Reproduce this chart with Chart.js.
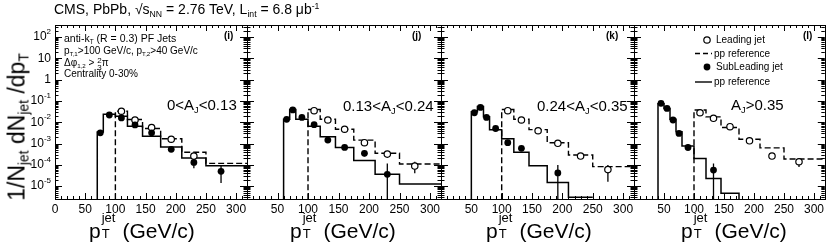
<!DOCTYPE html>
<html><head><meta charset="utf-8">
<script src="https://cdn.jsdelivr.net/npm/chart.js@4.4.1/dist/chart.umd.min.js"></script>
<style>
html,body{margin:0;padding:0;background:#fff;}
#wrap{position:relative;width:830px;height:251px;overflow:hidden;font-family:"Liberation Sans",Arial,Helvetica,sans-serif;color:#000;}
canvas{position:absolute;left:0;top:0;}
.t{position:absolute;white-space:nowrap;line-height:1;z-index:5;}
.t sub,.t sup{font-size:0.62em;line-height:0;}
.t sub{vertical-align:-0.35em;}
.t sup{vertical-align:0.55em;}
.xt{font-size:21px;}
.ss{display:inline-block;position:relative;width:16px;height:1em;}
.ss .a{position:absolute;left:1px;top:-0.5em;font-size:0.62em;}
.ss .b{position:absolute;left:1px;top:0.78em;font-size:0.62em;}
.frac{display:inline-block;vertical-align:-0.45em;font-size:0.8em;line-height:0.85;text-align:center;}
.frac span{display:block;}
.yt{font-size:23px;transform:translate(-50%,-50%) rotate(-90deg);}
.yt sub{font-size:0.6em;vertical-align:-0.3em;}
</style></head>
<body>
<div id="wrap">
<canvas id="c0" width="830" height="251"></canvas>
<canvas id="c1" width="830" height="251"></canvas>
<canvas id="c2" width="830" height="251"></canvas>
<canvas id="c3" width="830" height="251"></canvas>

<div class="t" style="left:54px;top:2px;font-size:14px;">CMS, PbPb, <span>√<span style="border-top:1px solid #000;padding-top:1px;">s<sub>NN</sub></span></span> = 2.76 TeV, L<sub>int</sub> = 6.8 μb<sup>-1</sup></div>

<div class="t yt" style="left:17px;top:127px;">1/N<sub>jet</sub> dN<sub>jet</sub> /dp<sub>T</sub></div>

<div class="t xt" style="left:89px;top:217px;">p<span class="ss"><span class="a">jet</span><span class="b">T</span></span> (GeV/c)</div>
<div class="t xt" style="left:290px;top:217px;">p<span class="ss"><span class="a">jet</span><span class="b">T</span></span> (GeV/c)</div>
<div class="t xt" style="left:486px;top:217px;">p<span class="ss"><span class="a">jet</span><span class="b">T</span></span> (GeV/c)</div>
<div class="t xt" style="left:681px;top:217px;">p<span class="ss"><span class="a">jet</span><span class="b">T</span></span> (GeV/c)</div>

<div class="t" style="left:64px;top:33px;font-size:10.5px;">anti-k<sub>T</sub> (R = 0.3) PF Jets</div>
<div class="t" style="left:64px;top:46px;font-size:10px;">p<sub>T,1</sub>&gt;100 GeV/c, p<sub>T,2</sub>&gt;40 GeV/c</div>
<div class="t" style="left:64px;top:58px;font-size:10px;">Δφ<sub>1,2</sub> &gt; <span class="frac"><span>2</span><span>3</span></span>π</div>
<div class="t" style="left:64px;top:69px;font-size:10px;">Centrality 0-30%</div>

<div class="t" style="left:224px;top:31px;font-size:10px;font-weight:bold;">(i)</div>
<div class="t" style="left:412px;top:31px;font-size:10px;font-weight:bold;">(j)</div>
<div class="t" style="left:606px;top:31px;font-size:10px;font-weight:bold;">(k)</div>
<div class="t" style="left:803px;top:31px;font-size:10px;font-weight:bold;">(l)</div>

<div class="t" style="left:167px;top:97px;font-size:15px;">0&lt;A<sub>J</sub>&lt;0.13</div>
<div class="t" style="left:343px;top:98px;font-size:15px;">0.13&lt;A<sub>J</sub>&lt;0.24</div>
<div class="t" style="left:537px;top:98px;font-size:15px;">0.24&lt;A<sub>J</sub>&lt;0.35</div>
<div class="t" style="left:731px;top:97px;font-size:15px;">A<sub>J</sub>&gt;0.35</div>

<div class="t" style="left:716px;top:35px;font-size:10px;">Leading jet</div>
<div class="t" style="left:714px;top:48.5px;font-size:10px;">pp reference</div>
<div class="t" style="left:716px;top:62px;font-size:10px;">SubLeading jet</div>
<div class="t" style="left:714px;top:77px;font-size:10px;">pp reference</div>
</div>

<script>
// ---------------- data ----------------
const xTicksFirst = [0, 50, 100, 150, 200, 250, 300];
const xTicksOther = [50, 100, 150, 200, 250, 300];
const yDecades = [-5, -4, -3, -2, -1, 0, 1, 2];

// leading-jet bins (centres and lower edges of pp reference histogram)
const leadX = [110, 132.5, 160, 192.5, 230, 275];
const leadRefEdges = [100, 120, 145, 175, 210, 250];

// panel (i) 0<AJ<0.13
const lead1 = [0.033, 0.0128, 0.0057, 0.0016, 0.00026, null];
const leadRef1 = [0.033, 0.0135, 0.0051, 0.0017, 0.00039, 0.000118];
const sub1X = [75, 90, 110, 132.5, 160, 192.5, 230, 275];
const sub1 = [0.0032, 0.022, 0.016, 0.0075, 0.0032, 0.00054, 0.00013, 0.00005];
const sub1ErrLo = [null, null, null, null, null, null, 0.00007, 0.000014];
const sub1ErrHi = [null, null, null, null, null, null, 0.00023, 0.0001];
const subRef1Edges = [70, 80, 100, 120, 145, 175, 210, 250];
const subRef1 = [0.0035, 0.024, 0.019, 0.0066, 0.0022, 0.0007, 0.00021, 0.00009];

// panel (j) 0.13<AJ<0.24
const lead2 = [0.035, 0.0128, 0.0047, 0.0011, 0.00032, 0.000088];
const lead2ErrLo = [null, null, null, null, null, 0.00004];
const lead2ErrHi = [null, null, null, null, null, 0.00014];
const leadRef2 = [0.04, 0.0138, 0.0047, 0.00145, 0.00035, 0.00011];
const sub2X = [65, 75, 90, 110, 132.5, 160, 192.5, 230];
const sub2 = [0.0138, 0.038, 0.017, 0.0077, 0.00146, 0.00066, 0.00035, 0.000036];
const sub2ErrLo = [null, null, null, null, null, null, 0.00025, 1e-7];
const sub2ErrHi = [null, null, null, null, null, null, 0.00048, 0.000117];
const subRef2Edges = [60, 70, 80, 100, 120, 145, 175, 210, 250];
const subRef2 = [0.0138, 0.04, 0.0138, 0.0066, 0.0021, 0.00066, 0.00016, 0.000036, 0.0000126];

// panel (k) 0.24<AJ<0.35
const lead3 = [0.035, 0.0128, 0.004, 0.00103, 0.00026, 0.00006];
const lead3ErrLo = [null, null, null, null, null, 0.000016];
const lead3ErrHi = [null, null, null, null, null, 0.0001];
const leadRef3 = [0.04, 0.0138, 0.0045, 0.0011, 0.00029, 0.000083];
const sub3X = [55, 65, 75, 90, 110, 132.5, 192.5];
const sub3 = [0.028, 0.05, 0.017, 0.0051, 0.0011, 0.0006, 0.000042];
const sub3ErrLo = [null, null, null, null, null, null, 1e-7];
const sub3ErrHi = [null, null, null, null, null, null, 0.0001];
const subRef3Edges = [50, 60, 70, 80, 100, 120, 145, 175, 210];
const subRef3 = [0.031, 0.055, 0.018, 0.0045, 0.0017, 0.00039, 0.00009, 0.000015, 0.000003];
const subRef3End = 250;

// panel (l) AJ>0.35
const lead4 = [0.028, 0.0154, 0.0062, 0.00135, 0.00026, 0.00014];
const lead4ErrLo = [null, null, null, null, null, 0.00008];
const lead4ErrHi = [null, null, null, null, null, 0.00019];
const leadRef4 = [0.038, 0.018, 0.0057, 0.0016, 0.00063, 0.00019];
const sub4X = [45, 55, 65, 75, 90, 132.5];
const sub4 = [0.078, 0.045, 0.0128, 0.003, 0.00066, 0.000057];
const sub4ErrLo = [null, null, null, null, 0.00045, 1e-7];
const sub4ErrHi = [null, null, null, null, 0.00095, 0.000117];
const subRef4Edges = [40, 50, 60, 70, 80, 100, 120, 145];
const subRef4 = [0.075, 0.045, 0.0138, 0.0036, 0.00076, 0.0002, 0.000023, 0.0000046];
const subRef4End = 175;

// ---------------- layout ----------------
const X_MIN = 0, X_MAX = 318, Y_MIN = 2.5e-6, Y_MAX = 370;
const frames = [[55, 247], [247, 441], [441, 634], [634, 827]];
const FRAME_TOP = 25, CANVAS_W = 830, CANVAS_H = 251, XAXIS_H = 52;
const FLOOR = 1e-9;

function pts(xs, ys) { return xs.map((x, k) => ({ x: x, y: ys[k] })); }
function hist(edges, vals, endX, drop) {
  const p = [{ x: edges[0], y: FLOOR }];
  edges.forEach((e, k) => p.push({ x: e, y: vals[k] }));
  p.push({ x: endX, y: vals[vals.length - 1] });
  if (drop) p.push({ x: endX, y: FLOOR });
  return p;
}
function errs(lo, hi) { return lo ? lo.map((l, k) => (l === null ? null : [l, hi[k]])) : null; }

const panels = [
  { lead: lead1, leadErr: null, leadRef: leadRef1, subX: sub1X, sub: sub1, subErr: errs(sub1ErrLo, sub1ErrHi), subEdges: subRef1Edges, subRef: subRef1, subEnd: X_MAX, drop: false },
  { lead: lead2, leadErr: errs(lead2ErrLo, lead2ErrHi), leadRef: leadRef2, subX: sub2X, sub: sub2, subErr: errs(sub2ErrLo, sub2ErrHi), subEdges: subRef2Edges, subRef: subRef2, subEnd: X_MAX, drop: false },
  { lead: lead3, leadErr: errs(lead3ErrLo, lead3ErrHi), leadRef: leadRef3, subX: sub3X, sub: sub3, subErr: errs(sub3ErrLo, sub3ErrHi), subEdges: subRef3Edges, subRef: subRef3, subEnd: subRef3End, drop: false },
  { lead: lead4, leadErr: errs(lead4ErrLo, lead4ErrHi), leadRef: leadRef4, subX: sub4X, sub: sub4, subErr: errs(sub4ErrLo, sub4ErrHi), subEdges: subRef4Edges, subRef: subRef4, subEnd: subRef4End, drop: true }
];

// error bars (drawn under markers)
const errorBarPlugin = {
  id: 'errorBars',
  beforeDatasetsDraw(chart) {
    const { ctx, chartArea: a, scales: { x, y } } = chart;
    ctx.save();
    ctx.beginPath(); ctx.rect(a.left, a.top, a.right - a.left, a.bottom - a.top); ctx.clip();
    ctx.strokeStyle = '#000'; ctx.lineWidth = 1.3;
    chart.data.datasets.forEach(ds => {
      if (!ds.errorBars) return;
      ds.data.forEach((p, k) => {
        const e = ds.errorBars[k];
        if (!e || p.y === null) return;
        const px = x.getPixelForValue(p.x);
        ctx.beginPath();
        ctx.moveTo(px, y.getPixelForValue(e[0]));
        ctx.lineTo(px, y.getPixelForValue(e[1]));
        ctx.stroke();
      });
    });
    ctx.restore();
  }
};

// ROOT-like frame with inward ticks
const framePlugin = {
  id: 'rootFrame',
  afterDraw(chart, args, opts) {
    const { ctx, chartArea: a, scales: { x, y } } = chart;
    ctx.save();
    ctx.strokeStyle = '#000'; ctx.lineWidth = 1;
    ctx.strokeRect(Math.round(a.left) + 0.5, Math.round(a.top) + 0.5, Math.round(a.right - a.left), Math.round(a.bottom - a.top));
    ctx.beginPath();
    for (let v = 10; v < X_MAX; v += 10) {
      const px = Math.round(x.getPixelForValue(v)) + 0.5;
      const len = v % 50 === 0 ? 6 : 3;
      ctx.moveTo(px, a.bottom); ctx.lineTo(px, a.bottom - len);
      ctx.moveTo(px, a.top); ctx.lineTo(px, a.top + len);
    }
    for (let d = -6; d <= 2; d++) {
      for (let m = 1; m <= 9; m++) {
        const v = m * Math.pow(10, d);
        if (v <= Y_MIN || v >= Y_MAX) continue;
        const py = Math.round(y.getPixelForValue(v)) + 0.5;
        const len = m === 1 ? 7 : 3.5;
        ctx.moveTo(a.left, py); ctx.lineTo(a.left + len, py);
        ctx.moveTo(a.right, py); ctx.lineTo(a.right - len, py);
      }
    }
    ctx.stroke();
    if (opts.yLabels) {
      ctx.fillStyle = '#000';
      ctx.textBaseline = 'middle';
      yDecades.forEach(d => {
        const py = y.getPixelForValue(Math.pow(10, d));
        const right = a.left - 4;
        if (d === 0 || d === 1) {
          ctx.font = '12px "Liberation Sans", Arial, sans-serif';
          ctx.textAlign = 'right';
          ctx.fillText(d === 0 ? '1' : '10', right, py);
        } else {
          const ex = String(d);
          ctx.font = '8px "Liberation Sans", Arial, sans-serif';
          const ew = ctx.measureText(ex).width;
          ctx.textAlign = 'left';
          ctx.fillText(ex, right - ew, py - 5);
          ctx.font = '12px "Liberation Sans", Arial, sans-serif';
          ctx.textAlign = 'right';
          ctx.fillText('10', right - ew, py);
        }
      });
    }
    if (opts.legend) {
      const lg = opts.legend;
      ctx.lineWidth = 1.2;
      ctx.beginPath(); ctx.arc(lg.x, lg.rows[0], 3.2, 0, Math.PI * 2); ctx.fillStyle = '#fff'; ctx.fill(); ctx.stroke();
      ctx.beginPath(); ctx.arc(lg.x, lg.rows[2], 3.4, 0, Math.PI * 2); ctx.fillStyle = '#000'; ctx.fill();
      ctx.lineWidth = 1.4;
      ctx.setLineDash([5, 3]);
      ctx.beginPath(); ctx.moveTo(lg.l0, lg.rows[1]); ctx.lineTo(lg.l1, lg.rows[1]); ctx.stroke();
      ctx.setLineDash([]);
      ctx.beginPath(); ctx.moveTo(lg.l0, lg.rows[3]); ctx.lineTo(lg.l1, lg.rows[3]); ctx.stroke();
    }
    ctx.restore();
  }
};

panels.forEach((p, i) => {
  const [L, R] = frames[i];
  const ctx = document.getElementById('c' + i).getContext('2d');
  const tickVals = i === 0 ? xTicksFirst : xTicksOther;
  new Chart(ctx, {
    type: 'scatter',
    data: {
      datasets: [
        { label: 'SubLeading jet', data: pts(p.subX, p.sub), errorBars: p.subErr, pointStyle: 'circle', pointRadius: 3.4, pointBorderWidth: 0, backgroundColor: '#000', borderColor: '#000', showLine: false },
        { label: 'Leading jet', data: pts(leadX, p.lead), errorBars: p.leadErr, pointStyle: 'circle', pointRadius: 3.2, pointBorderWidth: 1.2, backgroundColor: '#fff', borderColor: '#000', showLine: false },
        { label: 'pp reference (leading)', data: hist(leadRefEdges, p.leadRef, X_MAX, false), showLine: true, stepped: true, pointRadius: 0, borderColor: '#000', borderWidth: 1.4, borderDash: [6, 3], fill: false },
        { label: 'pp reference (subleading)', data: hist(p.subEdges, p.subRef, p.subEnd, p.drop), showLine: true, stepped: true, pointRadius: 0, borderColor: '#000', borderWidth: 1.5, fill: false }
      ]
    },
    options: {
      responsive: false,
      animation: false,
      events: [],
      layout: { padding: { left: i === 0 ? 0 : L, right: CANVAS_W - R, top: FRAME_TOP, bottom: 0 } },
      plugins: {
        legend: { display: false },
        tooltip: { enabled: false },
        rootFrame: {
          yLabels: i === 0,
          legend: i === 3 ? { x: 707, l0: 695, l1: 712, rows: [40, 53.5, 67, 82] } : null
        }
      },
      scales: {
        x: {
          type: 'linear', min: X_MIN, max: X_MAX,
          afterBuildTicks: s => { s.ticks = tickVals.map(v => ({ value: v })); },
          afterFit: s => { s.height = XAXIS_H; },
          grid: { display: false, drawTicks: false },
          border: { display: false },
          ticks: { color: '#000', font: { size: 12, family: '"Liberation Sans", Arial, sans-serif' }, padding: 3, maxRotation: 0, autoSkip: false }
        },
        y: {
          type: 'logarithmic', min: Y_MIN, max: Y_MAX,
          afterFit: s => { s.width = i === 0 ? L : 0; },
          grid: { display: false, drawTicks: false },
          border: { display: false },
          ticks: { display: false }
        }
      }
    },
    plugins: [errorBarPlugin, framePlugin]
  });
});
</script>
</body></html>
